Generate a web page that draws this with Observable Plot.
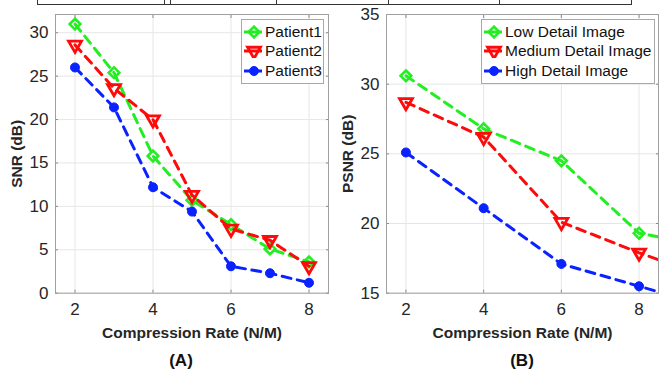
<!DOCTYPE html>
<html><head><meta charset="utf-8">
<script src="https://cdn.jsdelivr.net/npm/d3@7"></script>
<script src="https://cdn.jsdelivr.net/npm/@observablehq/plot@0.6"></script>
<style>
body{margin:0;background:#fff;font-family:"Liberation Sans",Arial,sans-serif;}
#wrap{position:relative;width:665px;height:373px;overflow:hidden;background:#fff;}
.panel{position:absolute;top:0;}
.panel svg{overflow:visible;}
.panel g[aria-label="x-axis label"] text,.panel g[aria-label="y-axis label"] text{font-weight:bold;font-size:15.5px;fill:#262626;}
.legend{position:absolute;border:1px solid #a8a8a8;background:#fff;font-size:15.5px;color:#111;padding:2px 0;}
.legend .row{display:flex;align-items:center;height:19.5px;white-space:nowrap;}
.legend svg{margin:0 2px 0 1px;}
.cap{position:absolute;font-weight:bold;font-size:17px;color:#111;transform:translateX(-50%);}
.strip{position:absolute;left:37px;top:-10px;width:593px;height:13px;border:1.5px solid #333;}
.strip .v{position:absolute;top:0;height:100%;border-left:1.5px solid #333;}
</style></head><body>
<div id="wrap"></div>
<script>
// ---- data ----
const rates = [2, 3, 4, 5, 6, 7, 8];
const patient1 = [31.0, 25.4, 15.8, 10.7, 7.9, 5.1, 3.6];
const patient2 = [28.6, 23.6, 20.0, 11.3, 7.4, 6.1, 3.1];
const patient3 = [26.0, 21.4, 12.2, 9.4, 3.1, 2.3, 1.2];
const seriesA = ["Patient1", "Patient2", "Patient3"];

const ratesB = [2, 4, 6, 8, 10];
const lowDetail = [30.6, 26.8, 24.5, 19.3, 18.3];
const mediumDetail = [28.7, 26.2, 20.1, 17.9, 15.9];
const highDetail = [25.1, 21.1, 17.1, 15.5, 13.9];
const seriesB = ["Low Detail Image", "Medium Detail Image", "High Detail Image"];

const xTicks = [2, 4, 6, 8];
const yTicksA = [0, 5, 10, 15, 20, 25, 30];
const yTicksB = [15, 20, 25, 30, 35];

// ---- styles ----
const colors = ["#22ee22", "#ff0a0a", "#0a22ff"];
const styles = [
  {symbol: "diamond2", r: 4.8, fill: "none", stroke: colors[0], strokeWidth: 2.6, rotate: 0},
  {symbol: "triangle", r: 4.8, fill: "none", stroke: colors[1], strokeWidth: 2.8, rotate: 180},
  {symbol: "circle", r: 4.5, fill: colors[2], stroke: colors[2], strokeWidth: 1, rotate: 0}
];

function tidy(xs, ys, name) { return xs.map((x, i) => ({x, y: ys[i], name})); }

function chart({width, height, ml, mr, yDomain, yTicks, yLabel, series}) {
  const marks = [
    Plot.gridX(xTicks, {stroke: "#e6e6e6", strokeOpacity: 1}),
    Plot.gridY(yTicks, {stroke: "#e6e6e6", strokeOpacity: 1}),
    Plot.axisX(xTicks, {anchor: "bottom", tickSize: -3, text: null, label: null, stroke: "#8a8a8a"}),
    Plot.axisX(xTicks, {anchor: "top", tickSize: -3, text: null, label: null, stroke: "#8a8a8a"}),
    Plot.axisY(yTicks, {anchor: "left", tickSize: -3, text: null, label: null, stroke: "#8a8a8a"}),
    Plot.axisY(yTicks, {anchor: "right", tickSize: -3, text: null, label: null, stroke: "#8a8a8a"}),
    Plot.frame({stroke: "#a0a0a0"})
  ];
  series.forEach((data, i) => {
    const s = styles[i];
    marks.push(Plot.line(data, {x: "x", y: "y", stroke: colors[i], strokeWidth: 3, strokeDasharray: "9,6.5", clip: true}));
    marks.push(Plot.dot(data, {x: "x", y: "y", symbol: () => s.symbol, r: s.r, fill: s.fill, stroke: s.stroke, strokeWidth: s.strokeWidth, rotate: s.rotate, clip: true}));
  });
  marks.push(Plot.axisX(xTicks, {tickSize: 0, tickPadding: 10, fontSize: 17, label: "Compression Rate (N/M)", labelAnchor: "center", labelOffset: 45, labelArrow: "none"}));
  marks.push(Plot.axisY(yTicks, {tickSize: 0, tickPadding: 7, fontSize: 17, label: yLabel, labelAnchor: "center", labelOffset: 45, labelArrow: "none"}));
  return Plot.plot({
    width, height,
    marginLeft: ml, marginRight: mr, marginTop: 14, marginBottom: height - 292.7,
    style: {fontFamily: '"Liberation Sans", Arial, sans-serif', color: "#262626", background: "transparent"},
    x: {domain: [1.5, 8.5]},
    y: {domain: yDomain},
    symbol: {type: "identity"},
    marks
  });
}

const wrap = document.getElementById("wrap");

// remnant strip at top
const strip = document.createElement("div");
strip.className = "strip";
[126, 132, 238, 350, 461].forEach(l => { const v = document.createElement("div"); v.className = "v"; v.style.left = l + "px"; strip.appendChild(v); });
wrap.appendChild(strip);

const dataA = [tidy(rates, patient1, seriesA[0]), tidy(rates, patient2, seriesA[1]), tidy(rates, patient3, seriesA[2])];
const dataB = [tidy(ratesB, lowDetail, seriesB[0]), tidy(ratesB, mediumDetail, seriesB[1]), tidy(ratesB, highDetail, seriesB[2])];

const pA = document.createElement("div"); pA.className = "panel"; pA.style.left = "0px";
pA.appendChild(chart({width: 333, height: 345, ml: 55, mr: 5, yDomain: [0, 32.1], yTicks: yTicksA, yLabel: "SNR (dB)", series: dataA}));
wrap.appendChild(pA);

const pB = document.createElement("div"); pB.className = "panel"; pB.style.left = "330px";
pB.appendChild(chart({width: 335, height: 345, ml: 56, mr: 7, yDomain: [15, 35], yTicks: yTicksB, yLabel: "PSNR (dB)", series: dataB}));
wrap.appendChild(pB);

function iconSvg(i) {
  const s = styles[i];
  const sym = {diamond2: d3.symbolDiamond2, triangle: d3.symbolTriangle, circle: d3.symbolCircle}[s.symbol];
  const size = Math.PI * s.r * s.r;
  const path = d3.symbol(sym, size)();
  return `<svg width="20" height="14"><line x1="1" x2="19" y1="7" y2="7" stroke="${colors[i]}" stroke-width="3"/>` +
    `<path d="${path}" transform="translate(11,7) rotate(${s.rotate})" fill="${s.fill}" stroke="${s.stroke}" stroke-width="${s.strokeWidth}"/></svg>`;
}
function legend(names, left, width) {
  const d = document.createElement("div");
  d.className = "legend";
  d.style.left = left + "px"; d.style.top = "19px"; d.style.width = width + "px";
  d.innerHTML = names.map((n, i) => `<div class="row">${iconSvg(i)}<span>${n}</span></div>`).join("");
  wrap.appendChild(d);
}
legend(seriesA, 241, 81);
legend(seriesB, 481, 172);

[["(A)", 181], ["(B)", 522]].forEach(([t, x]) => {
  const c = document.createElement("div"); c.className = "cap"; c.textContent = t;
  c.style.left = x + "px"; c.style.top = "351px"; wrap.appendChild(c);
});
</script>
</body></html>
